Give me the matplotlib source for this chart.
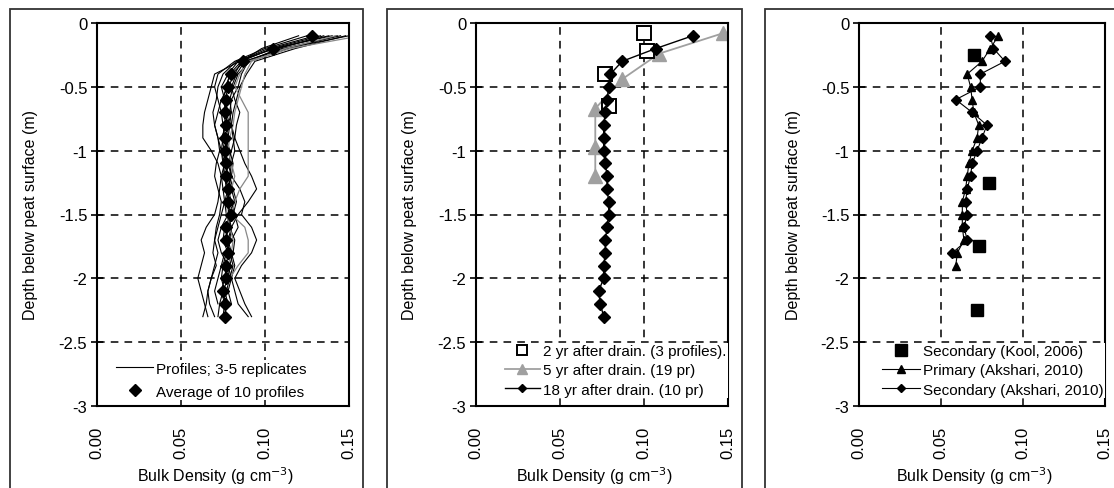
import matplotlib
matplotlib.use("Agg")
import matplotlib.pyplot as plt
from matplotlib.patches import Rectangle

plt.rcParams["font.family"] = ["Liberation Sans", "DejaVu Sans"]
plt.rcParams["font.size"] = 11

# depth steps (m) shared by the profile series
depth = [-0.1, -0.2, -0.3, -0.4, -0.5, -0.6, -0.7, -0.8, -0.9, -1.0, -1.1, -1.2,
         -1.3, -1.4, -1.5, -1.6, -1.7, -1.8, -1.9, -2.0, -2.1, -2.2, -2.3]

# panel 1: individual profiles (black) and two grey ones
profiles = [
    [0.150, 0.112, 0.088, 0.080, 0.076, 0.078, 0.075, 0.077, 0.074, 0.076, 0.078, 0.077,
     0.079, 0.077, 0.080, 0.076, 0.075, 0.078, 0.077, 0.076, 0.074, 0.076, 0.075],
    [0.145, 0.110, 0.088, 0.083, 0.080, 0.082, 0.085, 0.083, 0.082, 0.085, 0.088, 0.092,
     0.095, 0.090, 0.084, 0.080, 0.078, 0.080, 0.082, 0.080, 0.078, 0.080],
    [0.140, 0.105, 0.085, 0.070, 0.068, 0.066, 0.064, 0.063, 0.063, 0.068, 0.072, 0.074,
     0.075, 0.076, 0.074, 0.072, 0.070, 0.072, 0.070, 0.068, 0.066, 0.065, 0.063],
    [0.135, 0.108, 0.090, 0.086, 0.084, 0.080, 0.079, 0.080, 0.082, 0.080, 0.078, 0.080,
     0.085, 0.088, 0.086, 0.092, 0.095, 0.092, 0.086, 0.082, 0.085, 0.088, 0.092],
    [0.125, 0.100, 0.082, 0.072, 0.070, 0.072, 0.074, 0.075, 0.076, 0.078, 0.076, 0.074,
     0.073, 0.072, 0.070, 0.065, 0.062, 0.064, 0.062, 0.060, 0.062, 0.064, 0.066],
    [0.130, 0.102, 0.084, 0.078, 0.074, 0.076, 0.078, 0.076, 0.075, 0.074, 0.076, 0.078,
     0.080, 0.082, 0.078, 0.074, 0.072, 0.074, 0.078, 0.080, 0.082, 0.084, 0.090],
    [0.120, 0.098, 0.086, 0.082, 0.078, 0.074, 0.072, 0.070, 0.072, 0.074, 0.075, 0.076,
     0.078, 0.080, 0.082, 0.084, 0.080, 0.076, 0.074, 0.072, 0.070, 0.072],
    [0.148, 0.118, 0.094, 0.089, 0.085, 0.083, 0.081, 0.080, 0.081, 0.082, 0.080, 0.079,
     0.081, 0.083, 0.081, 0.078, 0.077, 0.079, 0.081, 0.079, 0.077, 0.075],
    [0.138, 0.106, 0.083, 0.075, 0.072, 0.071, 0.069, 0.070, 0.072, 0.073, 0.071, 0.070,
     0.072, 0.074, 0.073, 0.071, 0.070, 0.069, 0.071, 0.068, 0.066, 0.067, 0.070],
    [0.133, 0.104, 0.086, 0.079, 0.077, 0.075, 0.077, 0.079, 0.078, 0.077, 0.075, 0.076,
     0.077, 0.079, 0.078, 0.080, 0.079, 0.077, 0.075, 0.074, 0.076, 0.078],
    [0.143, 0.114, 0.091, 0.084, 0.081, 0.079, 0.080, 0.078, 0.077, 0.079, 0.081, 0.080,
     0.078, 0.076, 0.077, 0.079, 0.082, 0.081, 0.079, 0.078, 0.075, 0.073, 0.072],
]
grey_profiles = [
    [0.157, 0.115, 0.090, 0.085, 0.082, 0.086, 0.090, 0.090, 0.090, 0.090, 0.090, 0.090,
     0.085, 0.082, 0.080, 0.088, 0.090, 0.090, 0.084, 0.079],
    [0.142, 0.112, 0.092, 0.088, 0.086, 0.084, 0.082, 0.081, 0.079, 0.078, 0.080, 0.082,
     0.080, 0.078, 0.077, 0.079, 0.081, 0.080, 0.078],
]
average_10 = [0.128, 0.105, 0.087, 0.080, 0.078, 0.077, 0.076, 0.077, 0.076, 0.076, 0.077, 0.077,
              0.078, 0.078, 0.080, 0.077, 0.077, 0.078, 0.077, 0.077, 0.075, 0.076, 0.076]

# panel 2: time after drainage
yr2_depth = [-0.08, -0.22, -0.40, -0.65]
yr2_bd = [0.100, 0.102, 0.077, 0.079]
yr5_depth = [-0.08, -0.24, -0.44, -0.67, -0.97, -1.20]
yr5_bd = [0.147, 0.109, 0.087, 0.071, 0.071, 0.071]
yr18_bd = [0.129, 0.107, 0.087, 0.080, 0.079, 0.078, 0.077, 0.076, 0.076, 0.076, 0.077, 0.078,
           0.078, 0.079, 0.079, 0.078, 0.077, 0.077, 0.076, 0.076, 0.073, 0.074, 0.076]

# panel 3: literature data
kool_depth = [-0.25, -1.25, -1.75, -2.25]
kool_bd = [0.070, 0.079, 0.073, 0.072]
primary_bd = [0.085, 0.080, 0.075, 0.066, 0.068, 0.069, 0.070, 0.073, 0.072, 0.069,
              0.067, 0.066, 0.065, 0.063, 0.063, 0.063, 0.064, 0.060, 0.059]
secondary_bd = [0.080, 0.082, 0.089, 0.074, 0.074, 0.059, 0.069, 0.078, 0.075, 0.072,
                0.069, 0.068, 0.066, 0.065, 0.066, 0.064, 0.066, 0.057]

x_ticks = [0.00, 0.05, 0.10, 0.15]
x_tick_labels = ["0.00", "0.05", "0.10", "0.15"]
y_ticks = [0, -0.5, -1, -1.5, -2, -2.5, -3]
y_tick_labels = ["0", "-0.5", "-1", "-1.5", "-2", "-2.5", "-3"]

W, H = 1114, 489
fig = plt.figure(figsize=(W / 100, H / 100), dpi=100)

# outer chart frames
for left, right in [(10, 363), (387, 742), (765, 1120)]:
    fig.patches.append(Rectangle((left / W, -0.1), (right - left) / W, (H - 10) / H + 0.1,
                                 transform=fig.transFigure, fill=False,
                                 edgecolor="#333333", linewidth=1.3))

ax1 = fig.add_axes([97 / W, 82 / H, 252 / W, 383 / H])
ax2 = fig.add_axes([476 / W, 82 / H, 252 / W, 383 / H])
ax3 = fig.add_axes([859 / W, 82 / H, 246 / W, 383 / H])


def style(ax):
    ax.set_xlim(0, 0.15)
    ax.set_ylim(-3, 0)
    ax.set_xticks(x_ticks)
    ax.set_xticklabels(x_tick_labels, rotation=90)
    ax.set_yticks(y_ticks)
    ax.set_yticklabels(y_tick_labels)
    ax.grid(True, color="black", linestyle=(0, (5, 4)), linewidth=1.1)
    ax.tick_params(axis="y", direction="inout", length=8, width=1.2, pad=3, labelsize=12)
    ax.tick_params(axis="x", length=0, pad=14, labelsize=12)
    for sp in ax.spines.values():
        sp.set_linewidth(1.5)
        sp.set_color("black")
    ax.set_xlabel("Bulk Density (g cm$^{-3}$)", fontsize=11.5)
    ax.set_ylabel("Depth below peat surface (m)", fontsize=11.5)
    ax.yaxis.set_label_coords(-0.235, 0.5)
    ax.xaxis.set_label_coords(0.47, -0.152)


leg_opts = dict(frameon=True, fancybox=False, edgecolor="none", framealpha=1,
                borderaxespad=0, fontsize=11, handletextpad=0.2, borderpad=0.1)

# panel 1
for i, p in enumerate(profiles):
    ax1.plot(p, depth[:len(p)], color="black", linewidth=0.8,
             label="Profiles; 3-5 replicates" if i == 0 else None)
for p in grey_profiles:
    ax1.plot(p, depth[:len(p)], color="#888888", linewidth=0.9)
ax1.plot(average_10, depth, linestyle="none", marker="D", markersize=6, color="black",
         label="Average of 10 profiles")
style(ax1)
ax1.legend(loc="lower left", bbox_to_anchor=(0.07, 0.015), handlelength=2.4,
           labelspacing=0.6, **leg_opts)

# panel 2
ax2.plot(yr2_bd, yr2_depth, linestyle="none", marker="s", markersize=10,
         markerfacecolor="white", markeredgecolor="black", markeredgewidth=1.4,
         label="2 yr after drain. (3 profiles).", zorder=3)
ax2.plot(yr5_bd, yr5_depth, color="#a0a0a0", linewidth=1.3, marker="^", markersize=10,
         label="5 yr after drain. (19 pr)", zorder=2)
ax2.plot(yr18_bd, depth, color="black", linewidth=1.0, marker="D", markersize=6,
         label="18 yr after drain. (10 pr)", zorder=4)
style(ax2)
ax2.legend(loc="lower right", bbox_to_anchor=(1.0, 0.02), handlelength=2.3,
           labelspacing=0.35, markerscale=0.7, **leg_opts)

# panel 3
ax3.plot(kool_bd, kool_depth, linestyle="none", marker="s", markersize=9, color="black",
         label="Secondary (Kool, 2006)")
ax3.plot(primary_bd, depth[:len(primary_bd)], color="black", linewidth=0.8, marker="^",
         markersize=6, label="Primary (Akshari, 2010)")
ax3.plot(secondary_bd, depth[:len(secondary_bd)], color="black", linewidth=0.8, marker="D",
         markersize=5, label="Secondary (Akshari, 2010)")
style(ax3)
ax3.legend(loc="lower right", bbox_to_anchor=(1.0, 0.02), handlelength=2.5,
           labelspacing=0.35, markerscale=0.9, **leg_opts)

fig.savefig("out.png", dpi=100)
